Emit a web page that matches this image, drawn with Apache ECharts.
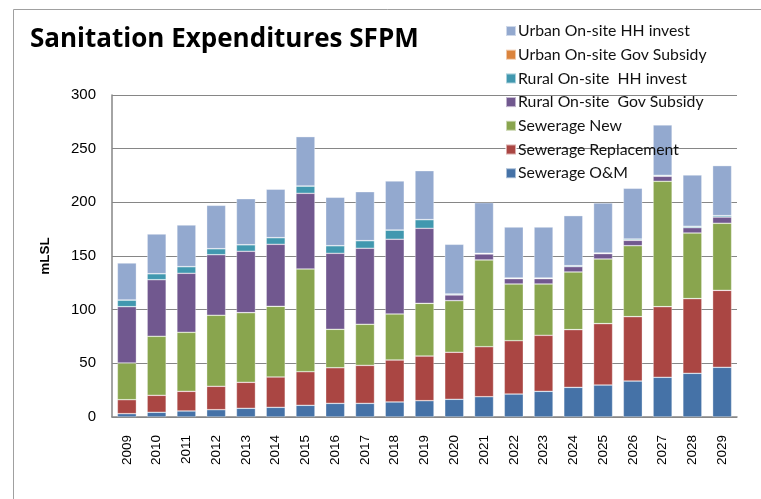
<!DOCTYPE html>
<html>
<head>
<meta charset="utf-8">
<script src="https://cdn.jsdelivr.net/npm/echarts@6/dist/echarts.min.js"></script>
<style>
  html, body { margin: 0; padding: 0; background: #fff; }
  #chart { width: 761px; height: 499px; }
</style>
</head>
<body>
<div id="chart"></div>
<script>
// Years on the category axis
const years = ['2009','2010','2011','2012','2013','2014','2015','2016','2017','2018','2019',
               '2020','2021','2022','2023','2024','2025','2026','2027','2028','2029'];

// Expenditures per component, mLSL
const sewerageOM          = [3.1, 4.4, 5.6, 6.8, 8.1, 9.0, 10.9, 12.7, 12.7, 14.0, 15.2, 16.5, 18.9, 21.4, 23.9, 27.6, 29.8, 33.5, 37.0, 40.7, 46.3];
const sewerageReplacement = [13.0, 15.8, 18.3, 21.8, 24.2, 28.3, 31.3, 33.2, 35.4, 39.1, 41.6, 43.8, 46.6, 49.7, 52.2, 53.8, 57.2, 60.0, 65.8, 69.6, 71.7];
const sewerageNew         = [34.2, 55.0, 55.0, 66.2, 64.9, 65.8, 95.7, 35.8, 38.3, 42.9, 49.1, 48.1, 80.8, 52.8, 47.8, 53.7, 60.2, 66.1, 116.8, 61.1, 62.5];
const ruralGovSubsidy     = [52.5, 52.7, 55.0, 56.4, 57.2, 57.8, 70.5, 70.8, 70.8, 69.6, 69.9, 5.3, 5.6, 5.0, 5.0, 5.0, 5.0, 5.0, 4.7, 5.0, 5.8];
const ruralHHInvest       = [6.2, 5.6, 6.2, 5.6, 6.1, 6.2, 6.8, 7.1, 7.1, 8.6, 8.1, 0.9, 0.6, 0.6, 0.6, 0.9, 0.6, 1.2, 0.9, 1.3, 1.3];
const urbanGovSubsidy     = [0, 0, 0, 0, 0, 0, 0, 0, 0, 0, 0, 0, 0, 0, 0, 0, 0, 0, 0, 0, 0];
const urbanHHInvest       = [34.5, 37.0, 38.8, 40.4, 42.9, 45.1, 46.0, 45.1, 45.6, 45.7, 45.6, 46.3, 47.2, 47.5, 47.5, 46.6, 46.6, 47.3, 46.9, 47.8, 46.6];

// Y axis ticks
const yTicks = { min: 0, max: 300, interval: 50 };

const seriesDefs = [
  { name: 'Sewerage O&M',               data: sewerageOM,          color: '#4572A7' },
  { name: 'Sewerage Replacement',       data: sewerageReplacement, color: '#AA4643' },
  { name: 'Sewerage New',               data: sewerageNew,         color: '#89A54E' },
  { name: 'Rural On-site  Gov Subsidy', data: ruralGovSubsidy,     color: '#71588F' },
  { name: 'Rural On-site  HH invest',   data: ruralHHInvest,       color: '#4198AF' },
  { name: 'Urban On-site Gov Subsidy',  data: urbanGovSubsidy,     color: '#DB843D' },
  { name: 'Urban On-site HH invest',    data: urbanHHInvest,       color: '#93A9CF' }
];

const chart = echarts.init(document.getElementById('chart'), null, { renderer: 'canvas' });

chart.setOption({
  animation: false,
  backgroundColor: '#fff',
  graphic: [
    {
      type: 'rect',
      shape: { x: 13.5, y: 9.5, width: 800, height: 600 },
      style: { fill: 'none', stroke: '#a0a0a0', lineWidth: 1 },
      silent: true,
      z: -10
    }
  ],
  title: {
    text: 'Sanitation Expenditures SFPM',
    left: 25,
    top: 22,
    textStyle: { fontFamily: 'Open Sans', fontWeight: 'bold', fontSize: 26, color: '#000' }
  },
  legend: {
    orient: 'vertical',
    left: 500,
    top: 18,
    itemWidth: 10,
    itemHeight: 10,
    itemGap: 7.7,
    icon: 'rect',
    data: seriesDefs.map(s => s.name).reverse(),
    textStyle: { fontFamily: 'Lato', fontSize: 15.8, color: '#111', padding: [0, 0, 0, -3] },
    z: 10
  },
  grid: { left: 112, right: 24, top: 95, bottom: 82 },
  xAxis: {
    type: 'category',
    data: years,
    axisLine: { lineStyle: { color: '#868686', width: 1.5 } },
    axisTick: { show: false },
    axisLabel: {
      rotate: 90,
      fontFamily: "'Liberation Sans Narrow', 'Liberation Sans'",
      fontSize: 13.5,
      color: '#000',
      margin: 18,
      interval: 0
    }
  },
  yAxis: {
    type: 'value',
    min: yTicks.min,
    max: yTicks.max,
    interval: yTicks.interval,
    name: 'mLSL',
    nameLocation: 'middle',
    nameGap: 60,
    nameRotate: 90,
    nameTextStyle: { fontFamily: 'Liberation Sans', fontWeight: 'bold', fontSize: 13.5, color: '#000' },
    axisLine: { show: true, lineStyle: { color: '#868686', width: 1.5 } },
    axisTick: { show: false },
    splitLine: { lineStyle: { color: '#868686', width: 1.2 } },
    axisLabel: { fontFamily: 'Liberation Sans', fontSize: 15, color: '#000', margin: 16 }
  },
  series: seriesDefs.map(s => ({
    name: s.name,
    type: 'bar',
    stack: 'total',
    data: s.data,
    barWidth: 19,
    itemStyle: { color: s.color, borderColor: 'rgba(255,255,255,0.55)', borderWidth: 0.6 }
  }))
});
</script>
</body>
</html>
